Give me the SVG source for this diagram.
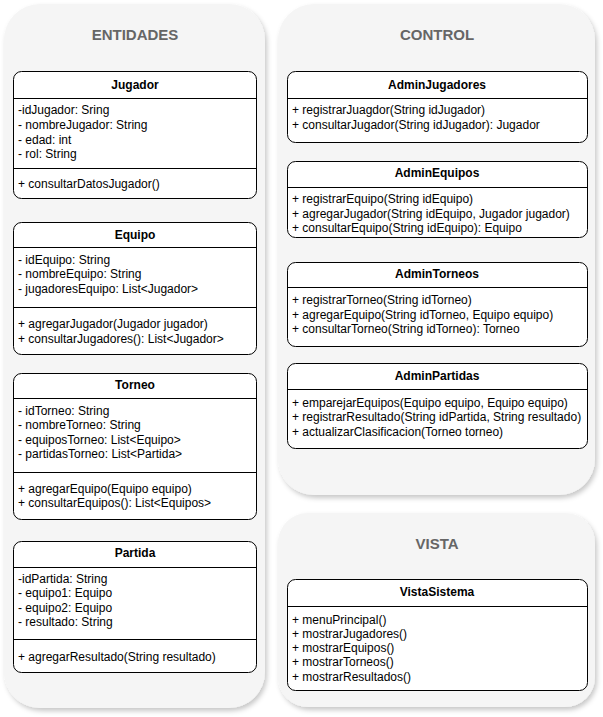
<svg xmlns="http://www.w3.org/2000/svg" width="603" height="717" viewBox="0 0 603 717">
<defs>
<filter id="sh" x="-10%" y="-10%" width="120%" height="120%">
<feDropShadow dx="2" dy="3" stdDeviation="2.5" flood-color="#000" flood-opacity="0.22"/>
</filter>
<style>
.panel{fill:#f5f5f5;stroke:none;filter:url(#sh)}
.title{font-family:"Liberation Sans",Arial,sans-serif;font-size:15px;font-weight:bold;fill:#666;text-anchor:middle}
.box{fill:#fff;stroke:#000;stroke-width:1}
.ln{stroke:#000;stroke-width:1}
.hd{font-family:"Liberation Sans",Arial,sans-serif;font-size:12px;font-weight:bold;fill:#000;text-anchor:middle}
.tx{font-family:"Liberation Sans",Arial,sans-serif;font-size:12px;fill:#000}
</style>
</defs>

<g id="panel-entidades">
<rect class="panel" x="4" y="4" width="261" height="704" rx="36"/>
<text class="title" x="135" y="40">ENTIDADES</text>
</g>
<g id="panel-control">
<rect class="panel" x="278" y="4" width="317" height="491" rx="36"/>
<text class="title" x="437" y="40">CONTROL</text>
</g>
<g id="panel-vista">
<rect class="panel" x="278" y="513" width="317" height="194" rx="30"/>
<text class="title" x="437" y="549">VISTA</text>
</g>

<g id="Jugador">
<rect class="box" x="13.5" y="71.5" width="243" height="127" rx="8"/>
<line class="ln" x1="13.5" y1="98.5" x2="256.5" y2="98.5"/>
<line class="ln" x1="13.5" y1="168.5" x2="256.5" y2="168.5"/>
<text class="hd" x="135" y="89">Jugador</text>
<text class="tx" x="18" y="114">-idJugador: Sring</text>
<text class="tx" x="18" y="129">- nombreJugador: String</text>
<text class="tx" x="18" y="144">- edad: int</text>
<text class="tx" x="18" y="158">- rol: String</text>
<text class="tx" x="18" y="188">+ consultarDatosJugador()</text>
</g>

<g id="Equipo">
<rect class="box" x="13.5" y="222.5" width="243" height="132" rx="8"/>
<line class="ln" x1="13.5" y1="247.5" x2="256.5" y2="247.5"/>
<line class="ln" x1="13.5" y1="307.5" x2="256.5" y2="307.5"/>
<text class="hd" x="135" y="239">Equipo</text>
<text class="tx" x="18" y="264">- idEquipo: String</text>
<text class="tx" x="18" y="278">- nombreEquipo: String</text>
<text class="tx" x="18" y="293">- jugadoresEquipo: List&lt;Jugador&gt;</text>
<text class="tx" x="18" y="328">+ agregarJugador(Jugador jugador)</text>
<text class="tx" x="18" y="343">+ consultarJugadores(): List&lt;Jugador&gt;</text>
</g>

<g id="Torneo">
<rect class="box" x="13.5" y="373.5" width="243" height="146" rx="8"/>
<line class="ln" x1="13.5" y1="398.5" x2="256.5" y2="398.5"/>
<line class="ln" x1="13.5" y1="472.5" x2="256.5" y2="472.5"/>
<text class="hd" x="135" y="389">Torneo</text>
<text class="tx" x="18" y="415">- idTorneo: String</text>
<text class="tx" x="18" y="429">- nombreTorneo: String</text>
<text class="tx" x="18" y="444">- equiposTorneo: List&lt;Equipo&gt;</text>
<text class="tx" x="18" y="458">- partidasTorneo: List&lt;Partida&gt;</text>
<text class="tx" x="18" y="493">+ agregarEquipo(Equipo equipo)</text>
<text class="tx" x="18" y="507">+ consultarEquipos(): List&lt;Equipos&gt;</text>
</g>

<g id="Partida">
<rect class="box" x="13.5" y="541.5" width="243" height="131" rx="8"/>
<line class="ln" x1="13.5" y1="567.5" x2="256.5" y2="567.5"/>
<line class="ln" x1="13.5" y1="639.5" x2="256.5" y2="639.5"/>
<text class="hd" x="135" y="557">Partida</text>
<text class="tx" x="18" y="583">-idPartida: String</text>
<text class="tx" x="18" y="597">- equipo1: Equipo</text>
<text class="tx" x="18" y="612">- equipo2: Equipo</text>
<text class="tx" x="18" y="626">- resultado: String</text>
<text class="tx" x="18" y="661">+ agregarResultado(String resultado)</text>
</g>

<g id="AdminJugadores">
<rect class="box" x="287.5" y="71.5" width="300" height="71" rx="8"/>
<line class="ln" x1="287.5" y1="98.5" x2="587.5" y2="98.5"/>
<text class="hd" x="437" y="89">AdminJugadores</text>
<text class="tx" x="292" y="114">+ registrarJuagdor(String idJugador)</text>
<text class="tx" x="292" y="129">+ consultarJugador(String idJugador): Jugador</text>
</g>

<g id="AdminEquipos">
<rect class="box" x="287.5" y="161.5" width="300" height="76" rx="8"/>
<line class="ln" x1="287.5" y1="187.5" x2="587.5" y2="187.5"/>
<text class="hd" x="437" y="177">AdminEquipos</text>
<text class="tx" x="292" y="203">+ registrarEquipo(String idEquipo)</text>
<text class="tx" x="292" y="218">+ agregarJugador(String idEquipo, Jugador jugador)</text>
<text class="tx" x="292" y="232">+ consultarEquipo(String idEquipo): Equipo</text>
</g>

<g id="AdminTorneos">
<rect class="box" x="287.5" y="262.5" width="300" height="84" rx="8"/>
<line class="ln" x1="287.5" y1="287.5" x2="587.5" y2="287.5"/>
<text class="hd" x="437" y="278">AdminTorneos</text>
<text class="tx" x="292" y="304">+ registrarTorneo(String idTorneo)</text>
<text class="tx" x="292" y="319">+ agregarEquipo(String idTorneo, Equipo equipo)</text>
<text class="tx" x="292" y="333">+ consultarTorneo(String idTorneo): Torneo</text>
</g>

<g id="AdminPartidas">
<rect class="box" x="287.5" y="363.5" width="300" height="85" rx="8"/>
<line class="ln" x1="287.5" y1="389.5" x2="587.5" y2="389.5"/>
<text class="hd" x="437" y="380">AdminPartidas</text>
<text class="tx" x="292" y="407">+ emparejarEquipos(Equipo equipo, Equipo equipo)</text>
<text class="tx" x="292" y="421">+ registrarResultado(String idPartida, String resultado)</text>
<text class="tx" x="292" y="436">+ actualizarClasificacion(Torneo torneo)</text>
</g>

<g id="VistaSistema">
<rect class="box" x="287.5" y="579.5" width="300" height="111" rx="8"/>
<line class="ln" x1="287.5" y1="606.5" x2="587.5" y2="606.5"/>
<text class="hd" x="437" y="596">VistaSistema</text>
<text class="tx" x="292" y="624">+ menuPrincipal()</text>
<text class="tx" x="292" y="638">+ mostrarJugadores()</text>
<text class="tx" x="292" y="652">+ mostrarEquipos()</text>
<text class="tx" x="292" y="666">+ mostrarTorneos()</text>
<text class="tx" x="292" y="681">+ mostrarResultados()</text>
</g>

<g id="connectors"></g>
</svg>
